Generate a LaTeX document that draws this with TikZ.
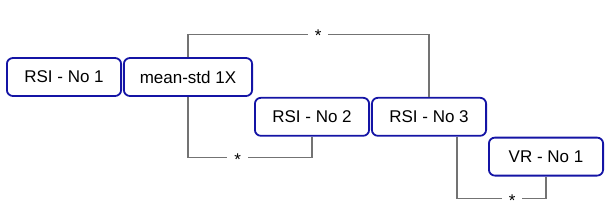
\documentclass[tikz,border=0pt]{standalone}
\usepackage{fontspec}
\setmainfont{Liberation Sans}
\usetikzlibrary{positioning}
\definecolor{boxblue}{RGB}{20,20,165}
\definecolor{linkgray}{RGB}{115,115,115}

\begin{document}
\begin{tikzpicture}[
  x=1pt, y=1pt,
  font=\fontsize{17}{20}\selectfont,
  blk/.style={draw=boxblue, line width=1.8pt, fill=white, rounded corners=6pt,
              minimum height=38pt, minimum width=114.2pt, inner sep=3pt},
  link/.style={draw=linkgray, line width=1.1pt},
  star/.style={fill=white, inner xsep=7pt, inner ysep=2pt, yshift=-2pt}]
\useasboundingbox (0,0) rectangle (609,-217);
\node[blk] (rsi1) at (64,-77) {RSI - No 1};
\node[blk, minimum width=128.2pt, right=1pt of rsi1] (mstd) {mean-std 1X};
\node[blk, below right=0pt and 1pt of mstd] (rsi2) {RSI - No 2};
\node[blk, right=1pt of rsi2] (rsi3) {RSI - No 3};
\node[blk, below right=0pt and 1pt of rsi3] (vr1) {VR - No 1};
% grouping brackets
\draw[link] (mstd.north) -- ++(0,23) -| node[star, pos=0.27] {*} (rsi3.north);
\draw[link] (mstd.south) -- ++(0,-61) -| node[star, pos=0.2] {*} (rsi2.south);
\draw[link] ([xshift=28pt]rsi3.south) -- ++(0,-62) -| node[star, pos=0.31] {*} (vr1.south);
\end{tikzpicture}
\end{document}
